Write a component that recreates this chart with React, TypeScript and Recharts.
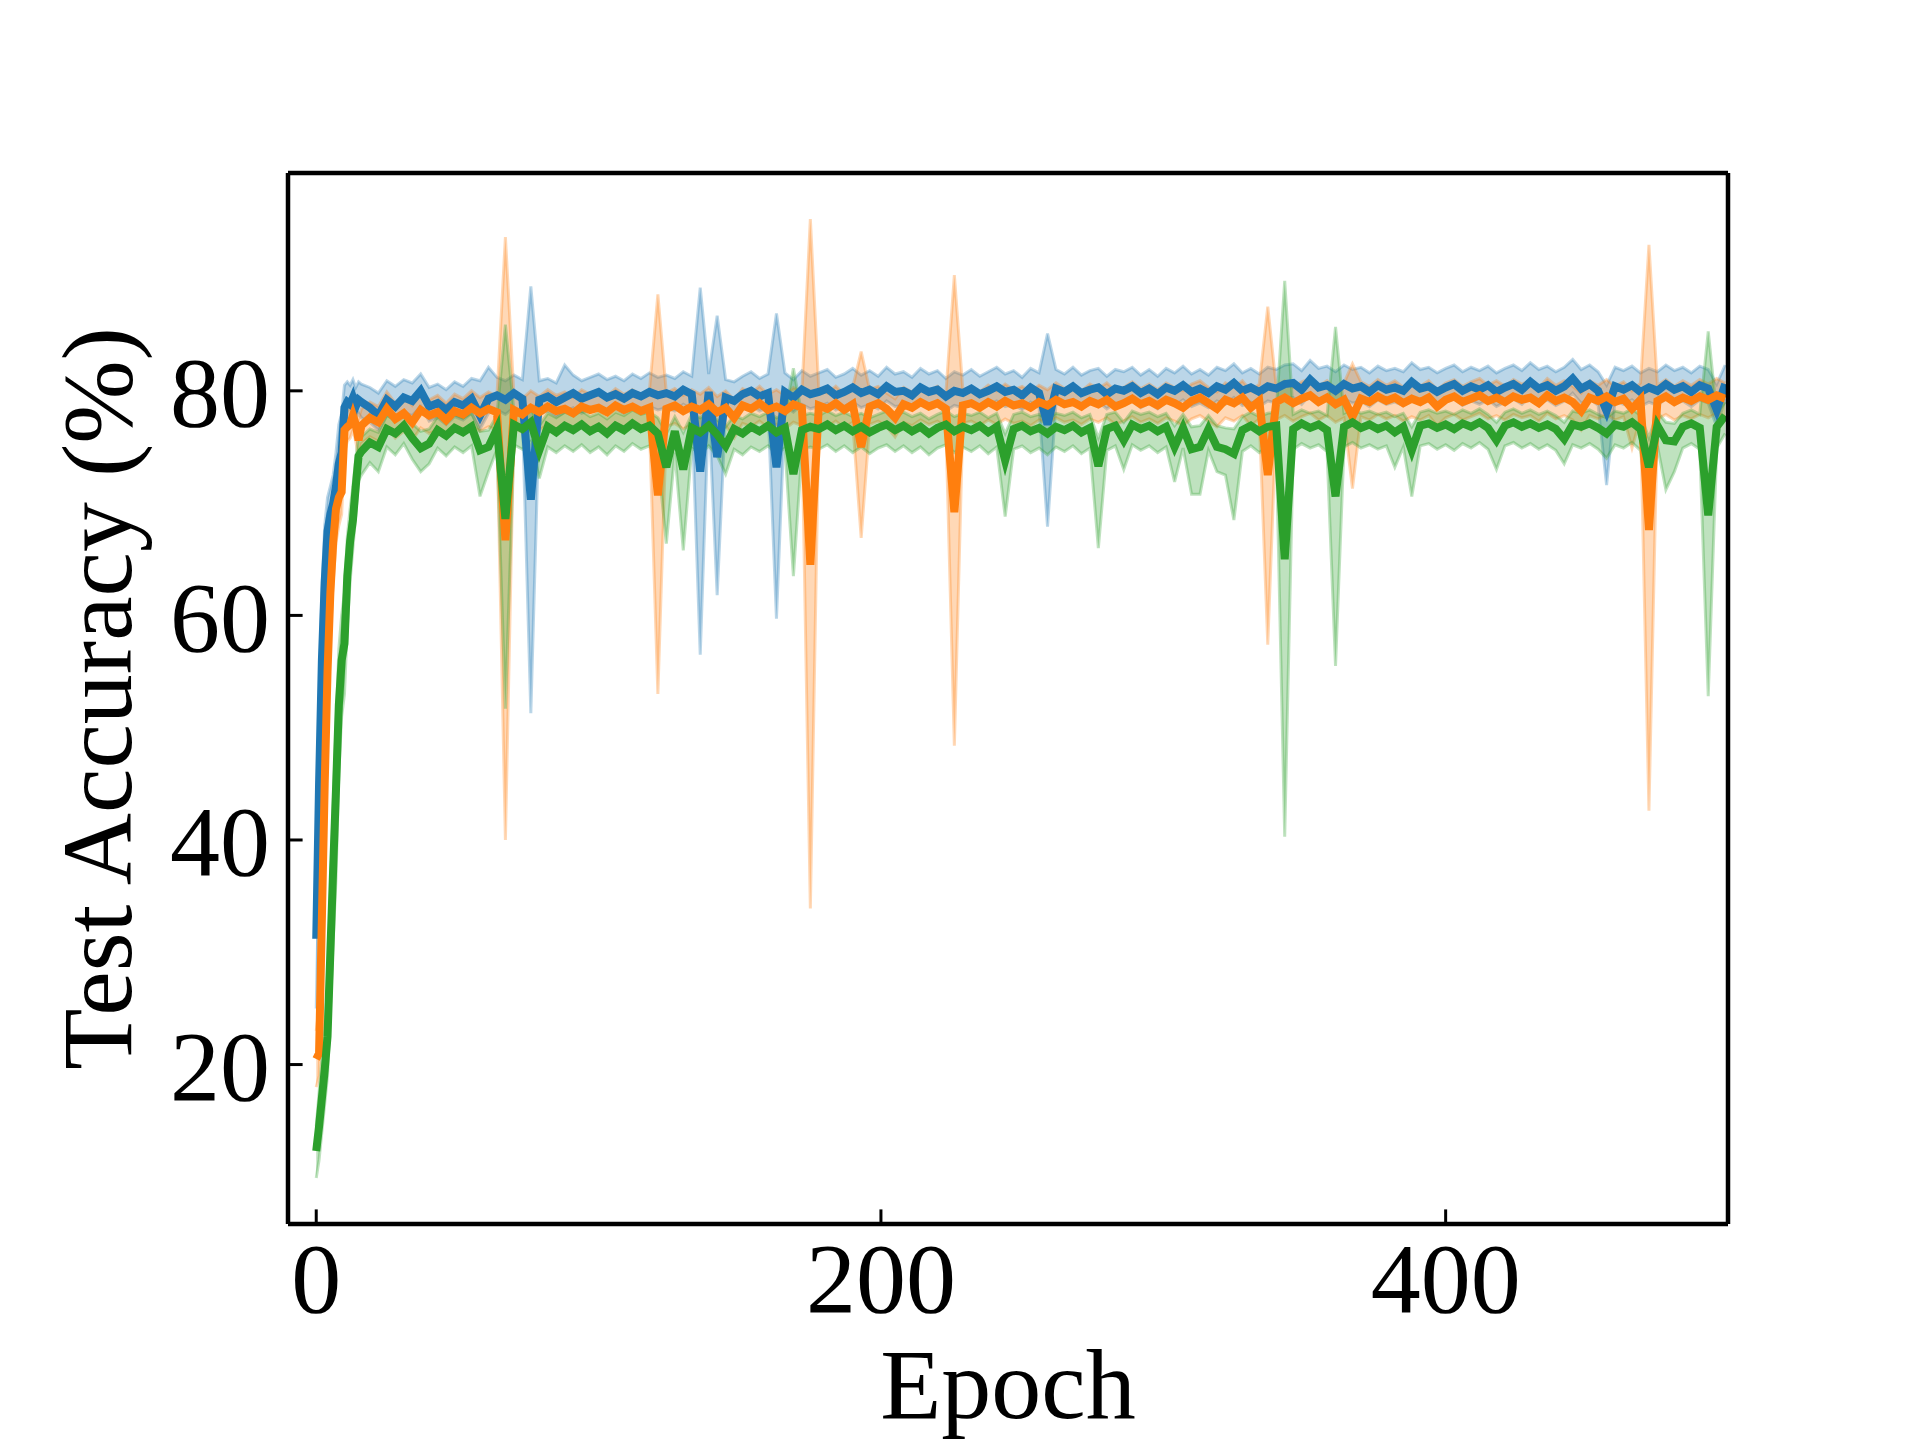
import { Area, ComposedChart, Line, ReferenceLine, XAxis, YAxis } from 'recharts';

const FONT = '"Liberation Serif", "Times New Roman", serif';
const BLUE = '#1f77b4';
const ORANGE = '#ff7f0e';
const GREEN = '#2ca02c';

// epochs 0..15 one by one, then every 3rd epoch up to 499
const EPOCHS: number[] = [];
for (let e = 0; e < 16; e++) EPOCHS.push(e);
for (let e = 16; e <= 499; e += 3) EPOCHS.push(e);

const X_DOMAIN = [-10, 500];
const Y_DOMAIN = [5.8, 99.4];
const X_TICKS = [0, 200, 400];
const Y_TICKS = [20, 40, 60, 80];

const BLUE_MEAN = [
  31.2, 45, 56, 63, 67.5, 69, 70, 71.5, 73.5, 74.5, 78.5, 79, 78.8, 79.4, 78.6, 79.2,
  79.0, 78.5, 77.8, 79.2, 78.6, 79.4, 79.1, 80.0, 78.6, 78.9, 78.3, 79.0, 78.7, 79.3, 77.8, 79.3, 79.6, 79.2,
  79.8, 79.3, 70.3, 79.2, 79.5, 79.0, 79.4, 79.8, 79.3, 79.6, 79.9, 79.4, 79.7, 79.3, 79.8, 79.5, 79.9, 79.6,
  79.8, 79.5, 80.1, 79.7, 72.8, 79.9, 74.1, 79.4, 79.1, 79.7, 80.0, 79.5, 79.8, 73.2, 79.9, 79.4, 80.1, 79.7,
  79.9, 80.2, 79.6, 79.9, 80.3, 79.8, 80.1, 79.7, 80.4, 79.9, 80.0, 79.6, 80.3, 79.9, 80.1, 79.5, 80.0, 79.8,
  80.2, 79.7, 80.0, 80.4, 79.9, 80.1, 79.6, 80.3, 79.8, 77.0, 80.2, 79.9, 80.4, 79.8, 80.1, 80.3, 79.7, 80.2,
  80.0, 80.4, 79.8, 80.2, 79.7, 80.3, 80.0, 80.5, 79.9, 80.2, 79.8, 80.4, 80.1, 80.7, 80.0, 80.3, 79.9, 80.4,
  80.2, 80.6, 80.7, 80.1, 81.0, 80.3, 80.5, 80.0, 80.6, 80.2, 80.4, 79.9, 80.5, 80.1, 80.3, 80.0, 80.8, 80.2,
  80.4, 79.9, 80.3, 80.6, 80.0, 80.4, 80.1, 80.5, 79.9, 80.3, 80.6, 80.1, 80.8, 80.2, 80.5, 80.0, 80.4, 81.1,
  80.2, 80.6, 80.0, 78.2, 80.4, 80.1, 80.5, 79.9, 80.3, 80.0, 80.6, 80.1, 80.4, 79.9, 80.5, 80.2, 78.3, 80.6,
];
const BLUE_LO = [
  25, 38, 50, 58, 63, 66, 67.5, 69, 71, 72.5, 76, 77.5, 77.5, 78, 77.5, 78,
  77.6, 77.2, 76.5, 77.9, 77.3, 78.1, 77.8, 78.6, 77.3, 77.6, 77.0, 77.7, 77.4, 78.0, 76.6, 78.0, 78.3, 77.9,
  78.5, 78.0, 51.3, 77.9, 78.2, 77.7, 78.1, 78.5, 78.0, 78.3, 78.6, 78.1, 78.4, 78.0, 78.5, 78.2, 78.6, 78.3,
  78.5, 78.2, 78.8, 78.4, 56.5, 78.6, 61.8, 78.1, 77.8, 78.4, 78.7, 78.2, 78.5, 59.7, 78.6, 78.1, 78.8, 78.4,
  78.6, 78.9, 78.3, 78.6, 79.0, 78.5, 78.8, 78.4, 79.1, 78.6, 78.7, 78.3, 79.0, 78.6, 78.8, 78.2, 78.7, 78.5,
  78.9, 78.4, 78.7, 79.1, 78.6, 78.8, 78.3, 79.0, 78.5, 67.9, 78.9, 78.6, 79.1, 78.5, 78.8, 79.0, 78.4, 78.9,
  78.7, 79.1, 78.5, 78.9, 78.4, 79.0, 78.7, 79.2, 78.6, 78.9, 78.5, 79.1, 78.8, 79.4, 78.7, 79.0, 78.6, 79.1,
  78.9, 79.3, 79.4, 78.8, 79.7, 79.0, 79.2, 78.7, 79.3, 78.9, 79.1, 78.6, 79.2, 78.8, 79.0, 78.7, 79.5, 78.9,
  79.1, 78.6, 79.0, 79.3, 78.7, 79.1, 78.8, 79.2, 78.6, 79.0, 79.3, 78.8, 79.5, 78.9, 79.2, 78.7, 79.1, 79.8,
  78.9, 79.3, 78.7, 71.6, 79.1, 78.8, 79.2, 78.6, 79.0, 78.7, 79.3, 78.8, 79.1, 78.6, 79.2, 78.9, 76.8, 79.3,
];
const BLUE_HI = [
  36, 52, 62, 68, 70.5, 71.5, 72.5, 74.5, 77, 78, 80.5, 80.8, 80.5, 81, 80.3, 80.8,
  80.6, 80.3, 79.8, 80.9, 80.4, 81.0, 80.7, 81.5, 80.3, 80.6, 80.1, 80.8, 80.4, 81.1, 80.9, 82.1, 81.2, 80.9,
  81.4, 81.0, 89.3, 80.9, 81.1, 80.7, 82.3, 81.4, 80.9, 81.2, 81.5, 81.0, 81.3, 80.9, 81.5, 81.1, 81.6, 81.2,
  81.4, 81.1, 81.7, 81.3, 89.2, 81.5, 86.7, 81.0, 80.8, 81.3, 81.7, 81.1, 81.5, 86.9, 81.6, 81.0, 81.8, 81.3,
  81.6, 81.9, 81.2, 81.5, 82.0, 81.4, 81.8, 81.3, 82.1, 81.5, 81.7, 81.2, 82.0, 81.5, 81.8, 81.1, 81.7, 81.4,
  81.9, 81.3, 81.7, 82.1, 81.5, 81.8, 81.2, 82.0, 81.6, 85.1, 81.9, 81.5, 82.1, 81.4, 81.8, 82.0, 81.3, 81.9,
  81.7, 82.1, 81.4, 81.9, 81.3, 82.0, 81.6, 82.2, 81.5, 81.9, 81.4, 82.1, 81.8, 82.4, 81.6, 82.0, 81.5, 82.1,
  81.9, 82.3, 82.4, 81.8, 82.7, 82.0, 82.2, 81.7, 82.3, 81.9, 82.1, 81.6, 82.2, 81.8, 82.0, 81.7, 82.5, 81.9,
  82.1, 81.6, 82.0, 82.3, 81.7, 82.1, 81.8, 82.2, 81.6, 82.0, 82.3, 81.8, 82.5, 81.9, 82.2, 81.7, 82.1, 82.8,
  81.9, 82.3, 81.7, 80.5, 82.1, 81.8, 82.2, 81.6, 82.0, 81.7, 82.3, 81.8, 82.1, 81.6, 82.2, 81.9, 80.6, 82.3,
];

const ORANGE_MEAN = [
  20.5, 21, 33, 45, 55, 62, 66.5, 69.5, 70.5, 71, 76.5, 76.8, 77, 77.8, 77, 75.6,
  76.9, 77.6, 77.2, 78.4, 77.5, 78.0, 77.2, 78.3, 77.8, 78.1, 77.4, 78.2, 77.9, 78.5, 78.0, 78.4, 78.1, 66.7,
  78.3, 77.9, 78.5, 78.1, 78.6, 78.2, 78.4, 78.0, 78.6, 78.3, 78.5, 78.1, 78.7, 78.3, 78.6, 78.2, 78.5, 70.7,
  78.4, 78.7, 78.2, 78.6, 78.3, 78.8, 78.1, 78.5, 77.6, 78.7, 78.4, 78.9, 78.3, 78.6, 78.2, 78.8, 78.5, 64.5,
  78.7, 78.4, 78.9, 78.3, 78.8, 75.0, 78.6, 78.9, 78.4, 77.6, 78.8, 78.5, 79.0, 78.6, 78.9, 78.4, 69.2, 78.7,
  78.9, 78.5, 79.0, 78.6, 79.1, 78.7, 78.9, 78.5, 79.0, 78.7, 79.2, 78.8, 79.0, 78.6, 79.1, 78.8, 79.2, 78.6,
  78.9, 79.3, 78.8, 79.1, 78.7, 79.2, 78.9, 78.5, 79.1, 79.4, 78.9, 78.4, 79.2, 78.9, 79.4, 78.5, 79.1, 72.5,
  79.0, 79.4, 78.9, 79.3, 79.6, 79.0, 79.4, 78.8, 79.2, 77.7, 79.3, 79.0, 79.5, 79.1, 79.4, 78.9, 79.3, 79.0,
  79.4, 78.6, 79.2, 79.5, 79.0, 79.3, 79.6, 79.1, 79.4, 79.0, 79.5, 79.2, 79.4, 78.9, 79.6, 79.1, 79.4, 79.0,
  78.2, 79.4, 79.1, 79.5, 79.0, 79.3, 78.4, 79.2, 67.6, 79.1, 79.5, 79.0, 79.4, 79.1, 79.5, 79.2, 79.6, 79.3,
];
const ORANGE_LO = [
  18, 19, 27, 39, 50, 58, 63, 66.5, 68, 69, 74.5, 75.5, 75.8, 76.5, 75.5, 74,
  75.3, 75.9, 75.5, 76.8, 75.8, 76.4, 75.6, 76.7, 76.2, 76.5, 75.8, 76.6, 76.3, 76.9, 76.4, 76.8, 76.5, 40.0,
  76.7, 76.3, 76.9, 76.5, 77.0, 76.6, 76.8, 76.4, 77.0, 76.7, 76.9, 76.5, 77.1, 76.7, 77.0, 76.6, 76.9, 53.0,
  76.8, 77.1, 76.6, 77.0, 76.7, 77.2, 76.5, 76.9, 75.8, 77.1, 76.8, 77.3, 76.7, 77.0, 76.6, 77.2, 76.9, 33.9,
  77.1, 76.8, 77.3, 76.7, 77.2, 66.9, 77.0, 77.3, 76.8, 75.9, 77.2, 76.9, 77.4, 77.0, 77.3, 76.8, 48.4, 77.1,
  77.3, 76.9, 77.4, 77.0, 77.5, 77.1, 77.3, 76.9, 77.4, 77.1, 77.6, 77.2, 77.4, 77.0, 77.5, 77.2, 77.6, 77.0,
  77.3, 77.7, 77.2, 77.5, 77.1, 77.6, 77.3, 76.9, 77.5, 77.8, 77.3, 76.8, 77.6, 77.3, 77.8, 76.9, 77.5, 57.4,
  77.4, 77.8, 77.3, 77.7, 78.0, 77.4, 77.8, 77.2, 77.6, 71.3, 77.7, 77.4, 77.9, 77.5, 77.8, 77.3, 77.7, 77.4,
  77.8, 76.9, 77.6, 77.9, 77.4, 77.7, 78.0, 77.5, 77.8, 77.4, 77.9, 77.6, 77.8, 77.3, 78.0, 77.5, 77.8, 77.4,
  76.5, 77.8, 77.5, 77.9, 77.4, 77.7, 74.9, 77.6, 42.6, 77.5, 77.9, 77.4, 77.8, 77.5, 77.9, 77.6, 78.0, 77.7,
];
const ORANGE_HI = [
  23, 25, 40, 51, 60, 66, 69.5, 71.5, 72.5, 73, 78, 78.2, 78.5, 79, 78.5, 77.5,
  78.4, 79.0, 78.6, 79.9, 78.9, 79.5, 78.7, 79.8, 79.2, 79.6, 78.9, 79.7, 79.3, 80.0, 79.4, 79.9, 79.5, 93.7,
  79.7, 79.3, 80.0, 79.5, 80.1, 79.6, 79.9, 79.4, 80.1, 79.7, 80.0, 79.5, 80.2, 79.7, 80.1, 79.6, 80.0, 88.6,
  79.8, 80.2, 79.6, 80.1, 79.7, 80.3, 79.5, 80.0, 79.2, 80.2, 79.8, 80.4, 79.7, 80.1, 79.6, 80.3, 79.9, 95.3,
  80.1, 79.8, 80.4, 79.7, 80.3, 83.5, 80.1, 80.4, 79.8, 79.3, 80.3, 79.9, 80.5, 80.0, 80.4, 79.8, 90.3, 80.1,
  80.3, 79.9, 80.5, 80.0, 80.6, 80.1, 80.4, 79.9, 80.5, 80.1, 80.7, 80.2, 80.5, 80.0, 80.6, 80.2, 80.7, 80.0,
  80.3, 80.8, 80.2, 80.6, 80.1, 80.7, 80.3, 80.0, 80.6, 80.9, 80.3, 79.9, 80.7, 80.3, 80.9, 80.0, 80.6, 87.5,
  80.4, 80.9, 80.3, 80.8, 81.1, 80.4, 80.9, 80.2, 80.7, 82.4, 80.8, 80.4, 81.0, 80.5, 80.9, 80.3, 80.8, 80.4,
  80.9, 80.1, 80.7, 81.0, 80.4, 80.8, 81.1, 80.5, 80.9, 80.4, 81.0, 80.6, 80.9, 80.3, 81.1, 80.5, 80.9, 80.4,
  79.8, 80.9, 80.5, 81.0, 80.4, 80.8, 80.0, 80.7, 93.0, 80.5, 81.0, 80.4, 80.9, 80.5, 81.0, 80.6, 81.1, 80.7,
];

const GREEN_MEAN = [
  12.3, 14.5, 17, 19.5, 22.5, 30, 37.5, 44.5, 52, 56, 57.5, 63.5, 66.6, 68.5, 71.5, 74.2,
  74.6, 75.4, 75.0, 76.6, 76.2, 76.9, 75.8, 74.9, 75.3, 76.5, 76.0, 76.7, 76.3, 76.8, 74.7, 75.0, 76.6, 68.6,
  77.0, 76.6, 77.2, 74.7, 76.8, 76.3, 76.9, 76.5, 77.0, 76.4, 76.8, 76.2, 76.9, 76.5, 77.1, 76.6, 76.9, 76.2,
  73.2, 76.4, 73.0, 76.7, 76.3, 76.9, 76.1, 75.1, 76.6, 76.2, 76.8, 76.4, 76.9, 76.3, 76.7, 72.6, 76.5, 76.8,
  76.6, 77.0, 76.5, 76.9, 76.4, 76.8, 76.3, 76.7, 77.0, 76.5, 76.9, 76.4, 76.8, 76.2, 76.7, 77.0, 76.4, 76.8,
  76.5, 76.9, 76.3, 76.8, 73.8, 76.6, 76.9, 76.4, 76.7, 76.2, 76.8, 76.5, 76.9, 76.3, 76.7, 73.3, 76.6, 76.9,
  75.6, 77.0, 76.6, 76.9, 76.4, 76.8, 75.0, 76.7, 74.8, 75.0, 76.6, 75.0, 74.8, 74.4, 76.5, 76.9, 76.4, 76.8,
  76.9, 65.0, 76.6, 77.1, 76.7, 77.0, 76.5, 70.6, 76.8, 77.2, 76.7, 77.0, 76.6, 76.9, 76.3, 76.8, 74.7, 76.9,
  77.1, 76.7, 77.0, 76.6, 77.1, 76.8, 77.2, 76.7, 75.6, 76.9, 77.2, 76.8, 77.1, 76.7, 77.0, 76.6, 75.7, 77.0,
  76.8, 77.1, 76.7, 76.2, 77.0, 76.8, 77.2, 76.6, 73.2, 76.9, 75.6, 75.5, 76.8, 77.1, 76.7, 68.9, 76.8, 77.8,
];
const GREEN_LO = [
  9.9, 11.5, 14, 16.5, 19, 25, 31, 36.5, 46, 51, 53, 59, 63, 66, 69, 72,
  72.5, 73.6, 72.8, 75.0, 74.3, 75.3, 73.9, 72.8, 73.5, 74.9, 74.2, 75.0, 74.5, 75.1, 70.6, 72.8, 74.8, 51.7,
  75.2, 74.8, 75.5, 72.2, 75.0, 74.5, 75.1, 74.6, 75.2, 74.5, 75.0, 74.3, 75.1, 74.6, 75.3, 74.8, 75.1, 74.0,
  66.4, 74.5, 65.8, 74.9, 74.4, 75.1, 74.2, 72.6, 74.8, 74.3, 75.0, 74.6, 75.1, 74.4, 74.9, 63.5, 74.7, 75.0,
  74.8, 75.2, 74.6, 75.1, 74.5, 75.0, 74.4, 74.9, 75.2, 74.6, 75.1, 74.5, 75.0, 74.3, 74.9, 75.2, 74.5, 75.0,
  74.6, 75.1, 74.4, 75.0, 68.8, 74.8, 75.1, 74.5, 74.9, 74.3, 75.0, 74.6, 75.1, 74.4, 74.9, 66.0, 74.7, 75.1,
  73.0, 75.2, 74.7, 75.1, 74.5, 75.0, 71.9, 74.9, 70.8, 70.8, 74.7, 72.8, 72.5, 68.5, 74.6, 75.1, 74.5, 75.0,
  75.1, 40.3, 74.8, 75.3, 74.9, 75.2, 74.6, 55.5, 75.0, 75.4, 74.9, 75.2, 74.8, 75.1, 73.2, 75.0, 70.6, 75.1,
  75.3, 74.8, 75.2, 74.7, 75.3, 74.9, 75.4, 74.8, 73.0, 75.1, 75.4, 74.9, 75.3, 74.8, 75.2, 74.7, 73.5, 75.2,
  74.9, 75.3, 74.8, 74.0, 75.2, 74.9, 75.4, 74.7, 69.0, 75.1, 71.2, 72.8, 74.9, 75.3, 74.8, 52.8, 74.9, 76.2,
];
const GREEN_HI = [
  14.5, 17.5, 20.5, 23, 27, 35, 43, 50, 57, 60, 62, 67, 69.5, 71.5, 74, 76,
  75.9, 76.6, 76.3, 77.8, 77.4, 78.1, 77.1, 76.4, 76.6, 77.7, 77.3, 77.9, 77.6, 78.0, 76.4, 76.5, 77.8, 85.9,
  78.2, 77.9, 78.4, 76.9, 78.0, 77.6, 78.1, 77.8, 78.2, 77.7, 78.0, 77.5, 78.1, 77.8, 78.3, 77.9, 78.1, 77.6,
  76.2, 77.7, 76.3, 77.9, 77.6, 78.1, 77.4, 76.8, 77.8, 77.5, 78.0, 77.7, 78.1, 77.6, 77.9, 82.0, 77.8, 78.0,
  77.8, 78.2, 77.8, 78.1, 77.7, 78.0, 77.6, 77.9, 78.2, 77.8, 78.1, 77.7, 78.0, 77.5, 77.9, 78.2, 77.7, 78.0,
  77.8, 78.1, 77.6, 78.0, 76.2, 77.9, 78.1, 77.7, 77.9, 77.5, 78.0, 77.8, 78.1, 77.6, 77.9, 75.8, 77.9, 78.1,
  77.2, 78.2, 77.9, 78.1, 77.7, 78.0, 76.9, 77.9, 76.8, 76.9, 77.8, 76.9, 76.7, 76.6, 77.7, 78.1, 77.7, 78.0,
  78.1, 89.8, 77.9, 78.3, 78.0, 78.2, 77.8, 85.7, 78.0, 78.4, 78.0, 78.2, 77.9, 78.1, 77.7, 78.0, 76.8, 78.1,
  78.3, 78.0, 78.2, 77.9, 78.3, 78.0, 78.4, 77.9, 77.2, 78.1, 78.4, 78.0, 78.3, 77.9, 78.2, 77.8, 77.2, 78.2,
  78.0, 78.3, 77.9, 77.6, 78.2, 78.0, 78.4, 77.8, 75.8, 78.1, 77.2, 77.1, 78.0, 78.3, 77.9, 85.3, 78.0, 79.0,
];

const data = EPOCHS.map((epoch, i) => ({
  epoch,
  blue: BLUE_MEAN[i],
  blueBand: [BLUE_LO[i], BLUE_HI[i]],
  orange: ORANGE_MEAN[i],
  orangeBand: [ORANGE_LO[i], ORANGE_HI[i]],
  green: GREEN_MEAN[i],
  greenBand: [GREEN_LO[i], GREEN_HI[i]],
}));

const SPINE = { stroke: '#000', strokeWidth: 4.5 };
const TICK_LINE = { stroke: '#000', strokeWidth: 3 };
const TICK_TEXT = { fontSize: 100, fill: '#000', fontFamily: FONT };

function XTitle({ viewBox }: any) {
  if (!viewBox) return null;
  return (
    <text
      x={viewBox.x + viewBox.width / 2}
      y={viewBox.y + 194}
      textAnchor="middle"
      fontSize={100}
      fontFamily={FONT}
      fill="#000"
    >
      Epoch
    </text>
  );
}

function YTitle({ viewBox }: any) {
  if (!viewBox) return null;
  const x = 131;
  const y = viewBox.y + viewBox.height / 2;
  return (
    <text
      x={x}
      y={y}
      transform={`rotate(-90, ${x}, ${y})`}
      textAnchor="middle"
      fontSize={100}
      fontFamily={FONT}
      fill="#000"
    >
      Test Accuracy (%)
    </text>
  );
}

export default function App() {
  // shaded min/max band of the runs
  const band = (key: string, color: string) => (
    <Area
      key={key}
      dataKey={key}
      type="linear"
      fill={color}
      fillOpacity={0.3}
      stroke={color}
      strokeOpacity={0.3}
      strokeWidth={3}
      isAnimationActive={false}
    />
  );
  // mean curve
  const mean = (key: string, color: string) => (
    <Line
      key={key}
      dataKey={key}
      type="linear"
      stroke={color}
      strokeWidth={8}
      dot={false}
      isAnimationActive={false}
    />
  );
  return (
    <div style={{ position: 'absolute', left: 0, top: 0, background: '#fff' }}>
      <ComposedChart
        width={1920}
        height={1440}
        data={data}
        margin={{ top: 173, right: 192, bottom: 0, left: 0 }}
      >
        <XAxis
          dataKey="epoch"
          type="number"
          domain={X_DOMAIN}
          ticks={X_TICKS}
          allowDataOverflow
          height={216}
          tickSize={-14.6}
          tickMargin={31.3}
          axisLine={SPINE}
          tickLine={TICK_LINE}
          tick={TICK_TEXT}
          label={<XTitle />}
        />
        <YAxis
          type="number"
          domain={Y_DOMAIN}
          ticks={Y_TICKS}
          allowDataOverflow
          width={288}
          tickSize={-14.6}
          tickMargin={32.6}
          axisLine={SPINE}
          tickLine={TICK_LINE}
          tick={TICK_TEXT}
          label={<YTitle />}
        />
        {band('blueBand', BLUE)}
        {mean('blue', BLUE)}
        {band('orangeBand', ORANGE)}
        {mean('orange', ORANGE)}
        {band('greenBand', GREEN)}
        {mean('green', GREEN)}
        <ReferenceLine x={X_DOMAIN[1]} stroke="#000" strokeWidth={4.5} />
        <ReferenceLine y={Y_DOMAIN[1]} stroke="#000" strokeWidth={4.5} />
      </ComposedChart>
    </div>
  );
}
